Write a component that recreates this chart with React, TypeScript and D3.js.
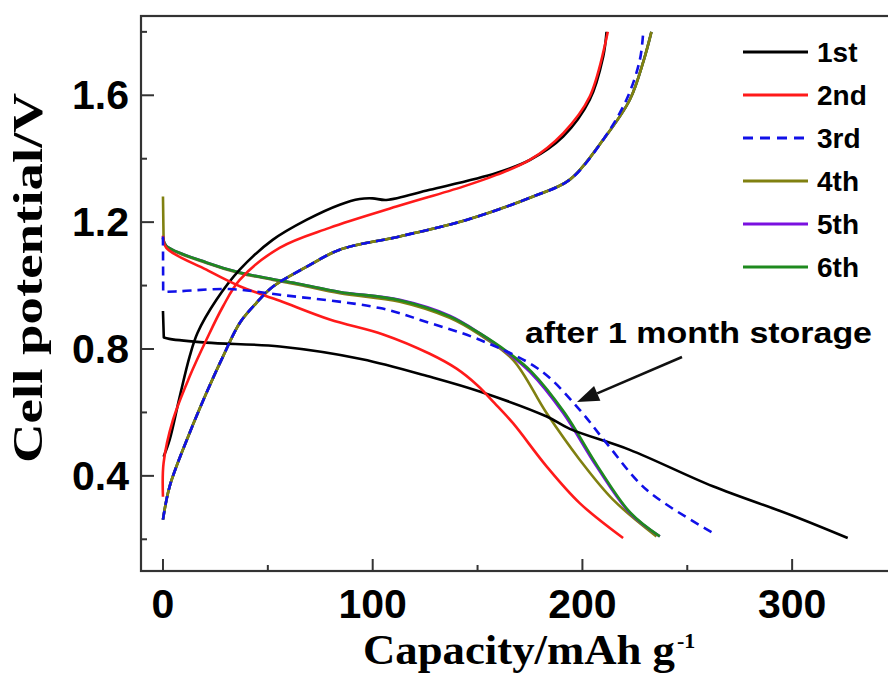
import React, { useEffect, useRef } from "react";
import * as d3 from "d3";

// capacity (mAh/g), potential (V) pairs
const discharge1 = [[0, 0.92], [0.4, 0.836], [3, 0.832], [20.7, 0.82], [55.7, 0.808], [95, 0.768], [127, 0.713], [151, 0.666], [183, 0.587], [194, 0.548], [222.6, 0.482], [262.2, 0.367], [300, 0.275], [326.5, 0.204]];
const charge1 = [[0.3, 0.46], [3.2, 0.514], [8, 0.65], [12.7, 0.776], [16.5, 0.851], [25.5, 0.955], [36.6, 1.05], [52.3, 1.144], [68.4, 1.207], [84.3, 1.255], [93.8, 1.273], [100, 1.275], [106.5, 1.27], [127.2, 1.302], [159, 1.355], [174.9, 1.396], [190.8, 1.47], [203.5, 1.586], [209.9, 1.722], [211.5, 1.8]];
const discharge2 = [[0, 1.157], [1.6, 1.119], [20.7, 1.05], [36.6, 0.998], [55.7, 0.952], [79.5, 0.893], [105, 0.846], [127.2, 0.785], [140, 0.738], [150, 0.685], [158, 0.63], [166.9, 0.566], [182.9, 0.43], [198.7, 0.314], [219.4, 0.204]];
const charge2 = [[0, 0.334], [0.3, 0.441], [4.8, 0.577], [12.7, 0.713], [20.7, 0.829], [28.6, 0.934], [36.6, 1.018], [55.6, 1.119], [79.4, 1.182], [111.3, 1.249], [143.1, 1.312], [159, 1.349], [174.9, 1.396], [190.9, 1.481], [203.5, 1.596], [212.1, 1.8]];
const discharge3 = [[0, 1.155], [0.1, 0.98], [8, 0.982], [31.8, 0.989], [55.7, 0.971], [103.4, 0.929], [127.2, 0.882], [151, 0.829], [179.7, 0.734], [198.7, 0.608], [211.5, 0.503], [230.6, 0.356], [262.3, 0.22]];
const charge3 = [[0, 0.262], [3.2, 0.367], [12.7, 0.535], [20.7, 0.661], [28.6, 0.776], [36.6, 0.882], [44.5, 0.945], [52.5, 0.997], [68.4, 1.059], [84.3, 1.113], [112.9, 1.155], [144.7, 1.207], [176.5, 1.281], [194, 1.334], [209.9, 1.46], [221, 1.586], [227.4, 1.712], [229, 1.8]];
const discharge4 = [[0, 1.281], [0.3, 1.144], [1.6, 1.123], [20.7, 1.071], [36.6, 1.039], [52.5, 1.018], [65.2, 1.002], [84.3, 0.976], [112.9, 0.949], [136.7, 0.898], [151, 0.845], [166.9, 0.766], [182.9, 0.598], [198.7, 0.451], [214.6, 0.325], [235.3, 0.209]];
const charge4 = [[0, 0.262], [3.2, 0.367], [12.7, 0.535], [20.7, 0.661], [28.6, 0.776], [36.6, 0.882], [44.5, 0.945], [52.5, 0.997], [68.4, 1.059], [84.3, 1.113], [112.9, 1.155], [144.7, 1.207], [176.5, 1.281], [194, 1.334], [209.9, 1.46], [222.6, 1.586], [229.3, 1.712], [232.9, 1.8]];
const discharge5 = [[0, 1.15], [1.6, 1.125], [20.7, 1.073], [36.6, 1.041], [52.5, 1.02], [65.2, 1.005], [84.3, 0.98], [112.9, 0.955], [136.7, 0.905], [151, 0.85], [163.8, 0.79], [174.9, 0.728], [190.8, 0.598], [206.7, 0.43], [222.6, 0.283], [236.9, 0.209]];
const charge5 = [[0, 0.262], [3.2, 0.367], [12.7, 0.535], [20.7, 0.661], [28.6, 0.776], [36.6, 0.882], [44.5, 0.945], [52.5, 0.997], [68.4, 1.059], [84.3, 1.113], [112.9, 1.155], [144.7, 1.207], [176.5, 1.281], [194, 1.334], [209.9, 1.46], [222.6, 1.586], [229.3, 1.712], [232.9, 1.8]];
const discharge6 = [[0, 1.15], [1.6, 1.125], [20.7, 1.073], [36.6, 1.041], [52.5, 1.02], [65.2, 1.005], [84.3, 0.98], [112.9, 0.954], [136.7, 0.903], [151, 0.85], [164.5, 0.79], [175.8, 0.728], [191.6, 0.598], [207.3, 0.43], [223, 0.283], [236.9, 0.209]];
const charge6 = [[0, 0.262], [3.2, 0.367], [12.7, 0.535], [20.7, 0.661], [28.6, 0.776], [36.6, 0.882], [44.5, 0.945], [52.5, 0.997], [68.4, 1.059], [84.3, 1.113], [112.9, 1.155], [144.7, 1.207], [176.5, 1.281], [194, 1.334], [209.9, 1.46], [222.6, 1.586], [229.3, 1.712], [232.9, 1.8]];

const cycleLabels = ["1st", "2nd", "3rd", "4th", "5th", "6th"];
const cycleColors = ["#000000", "#ff1a1a", "#1010e8", "#808010", "#7a10e0", "#1e8a1e"];
const xMajorTicks = [0, 100, 200, 300];
const xMinorTicks = [50, 150, 250];
const yMajorTicks = [0.4, 0.8, 1.2, 1.6];
const yMinorTicks = [0.2, 0.6, 1.0, 1.4, 1.8];

const App = () => {
  const ref = useRef<SVGSVGElement>(null);

  useEffect(() => {
    const svg = d3.select(ref.current);
    svg.selectAll("*").remove();

    const x = d3.scaleLinear().domain([-10, 350]).range([142, 897]);
    const y = d3.scaleLinear().domain([0.1, 1.85]).range([571, 16]);

    const straight = d3
      .line<number[]>()
      .x((d) => x(d[0]))
      .y((d) => y(d[1]));
    const smooth = straight.curve(d3.curveCatmullRom.alpha(0.5));
    const sharp = d3
      .line<number[]>()
      .x((d) => x(d[0]))
      .y((d) => y(d[1]));

    // first `head` points joined with straight segments (vertical drops), rest smoothed
    const pathFor = (pts: number[][], head: number) => {
      if (head < 2) return smooth(pts);
      const a = sharp(pts.slice(0, head)) as string;
      const b = (smooth(pts.slice(head - 1)) as string).replace(/^M[^A-Za-z]*/, "");
      return a + b;
    };

    // draw order: 4-6 below, 1-3 on top (dashes of 3rd visible over 4-6)
    const curves = [
      { data: charge5, c: 4, head: 0 }, { data: charge6, c: 5, head: 0 }, { data: charge4, c: 3, head: 0 },
      { data: discharge4, c: 3, head: 2 }, { data: discharge5, c: 4, head: 0 }, { data: discharge6, c: 5, head: 0 },
      { data: discharge1, c: 0, head: 2 }, { data: charge1, c: 0, head: 0 },
      { data: discharge2, c: 1, head: 0 }, { data: charge2, c: 1, head: 0 },
      { data: discharge3, c: 2, head: 2 }, { data: charge3, c: 2, head: 0 },
    ];

    svg
      .append("g")
      .selectAll("path")
      .data(curves)
      .enter()
      .append("path")
      .attr("d", (d) => pathFor(d.data, d.head))
      .attr("fill", "none")
      .attr("stroke", (d) => cycleColors[d.c])
      .attr("stroke-width", 2.6)
      .attr("stroke-linejoin", "round")
      .attr("stroke-dasharray", (d) => (d.c === 2 ? "9,6" : null));

    // frame
    svg
      .append("rect")
      .attr("x", 141)
      .attr("y", 16)
      .attr("width", 760)
      .attr("height", 555)
      .attr("fill", "none")
      .attr("stroke", "#333")
      .attr("stroke-width", 2.2);

    // ticks
    const tickG = svg.append("g").attr("stroke", "#333").attr("stroke-width", 2);
    xMajorTicks.forEach((t) => tickG.append("line").attr("x1", x(t)).attr("x2", x(t)).attr("y1", 571).attr("y2", 559));
    xMinorTicks.forEach((t) => tickG.append("line").attr("x1", x(t)).attr("x2", x(t)).attr("y1", 571).attr("y2", 565));
    yMajorTicks.forEach((t) => tickG.append("line").attr("x1", 141).attr("x2", 154).attr("y1", y(t)).attr("y2", y(t)));
    yMinorTicks.forEach((t) => tickG.append("line").attr("x1", 141).attr("x2", 147).attr("y1", y(t)).attr("y2", y(t)));

    const sans = "'Liberation Sans', Arial, sans-serif";
    const serif = "'Liberation Serif', 'Times New Roman', serif";

    svg
      .append("g")
      .selectAll("text")
      .data(xMajorTicks)
      .enter()
      .append("text")
      .attr("x", (d) => x(d))
      .attr("y", 618)
      .attr("text-anchor", "middle")
      .attr("font-family", sans)
      .attr("font-weight", "bold")
      .attr("font-size", 41)
      .text((d) => d);

    svg
      .append("g")
      .selectAll("text")
      .data(yMajorTicks)
      .enter()
      .append("text")
      .attr("x", 129)
      .attr("y", (d) => y(d) + 14)
      .attr("text-anchor", "end")
      .attr("font-family", sans)
      .attr("font-weight", "bold")
      .attr("font-size", 41)
      .text((d) => d.toFixed(1));

    // axis titles
    svg
      .append("text")
      .attr("x", 363)
      .attr("y", 664)
      .attr("font-family", serif)
      .attr("font-weight", "bold")
      .attr("font-size", 42)
      .attr("textLength", 312)
      .attr("lengthAdjust", "spacingAndGlyphs")
      .text("Capacity/mAh g");
    svg
      .append("text")
      .attr("x", 677)
      .attr("y", 648)
      .attr("font-family", serif)
      .attr("font-weight", "bold")
      .attr("font-size", 22)
      .text("-1");

    svg
      .append("text")
      .attr("transform", "translate(42,278) rotate(-90)")
      .attr("text-anchor", "middle")
      .attr("font-family", serif)
      .attr("font-weight", "bold")
      .attr("font-size", 43)
      .attr("textLength", 370)
      .attr("lengthAdjust", "spacingAndGlyphs")
      .text("Cell potential/V");

    // legend
    const legend = svg
      .append("g")
      .selectAll("g")
      .data(cycleLabels)
      .enter()
      .append("g")
      .attr("transform", (d, i) => `translate(743,${52 + i * 43})`);
    legend
      .append("line")
      .attr("x1", 0)
      .attr("x2", 65)
      .attr("stroke", (d, i) => cycleColors[i])
      .attr("stroke-width", 2.8)
      .attr("stroke-dasharray", (d, i) => (i === 2 ? "10,7" : null));
    legend
      .append("text")
      .attr("x", 74)
      .attr("y", 10)
      .attr("font-family", sans)
      .attr("font-weight", "bold")
      .attr("font-size", 28)
      .text((d) => d);

    // annotation
    svg
      .append("text")
      .attr("x", 525)
      .attr("y", 343)
      .attr("font-family", sans)
      .attr("font-weight", "bold")
      .attr("font-size", 30)
      .attr("textLength", 347)
      .attr("lengthAdjust", "spacingAndGlyphs")
      .text("after 1 month storage");

    const x0 = 682, y0 = 357, x1 = 577, y1 = 402;
    const ang = Math.atan2(y1 - y0, x1 - x0);
    const hl = 22, hw = 8;
    const bx = x1 - hl * Math.cos(ang), by = y1 - hl * Math.sin(ang);
    svg
      .append("line")
      .attr("x1", x0)
      .attr("y1", y0)
      .attr("x2", bx)
      .attr("y2", by)
      .attr("stroke", "#111")
      .attr("stroke-width", 2.6);
    svg
      .append("polygon")
      .attr(
        "points",
        [
          [x1, y1],
          [bx + hw * Math.sin(ang), by - hw * Math.cos(ang)],
          [bx - hw * Math.sin(ang), by + hw * Math.cos(ang)],
        ]
          .map((p) => p.join(","))
          .join(" ")
      )
      .attr("fill", "#111");
  }, []);

  return (
    <div style={{ position: "absolute", left: 0, top: 0 }}>
      <svg ref={ref} width={888} height={679} style={{ display: "block", background: "#fff" }} />
    </div>
  );
};

export default App;
